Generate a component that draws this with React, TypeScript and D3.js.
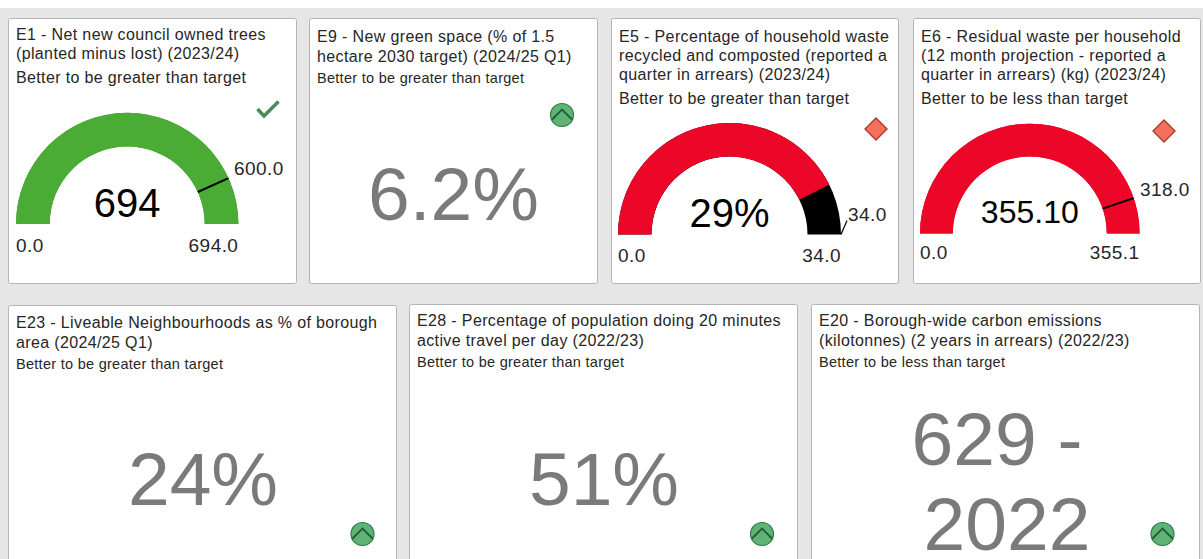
import React from "react";
import * as d3 from "d3";

// ---- data ----
const gaugeTitles = [
  ["E1 - Net new council owned trees", "(planted minus lost) (2023/24)"],
  ["E5 - Percentage of household waste", "recycled and composted (reported a", "quarter in arrears) (2023/24)"],
  ["E6 - Residual waste per household", "(12 month projection - reported a", "quarter in arrears) (kg) (2023/24)"],
];
const gaugeNotes = ["Better to be greater than target", "Better to be greater than target", "Better to be less than target"];
const gaugeValues = [694, 29, 355.1];
const gaugeMax = [694, 34, 355.1];
const gaugeTargets = [600, 34, 318];
const gaugeLabels = ["694", "29%", "355.10"];
const gaugeStatus = ["check", "diamond", "diamond"];

const kpiTitles = [
  ["E9 - New green space (% of 1.5", "hectare 2030 target) (2024/25 Q1)"],
  ["E23 - Liveable Neighbourhoods as % of borough", "area (2024/25 Q1)"],
  ["E28 - Percentage of population doing 20 minutes", "active travel per day (2022/23)"],
  ["E20 - Borough-wide carbon emissions", "(kilotonnes) (2 years in arrears) (2022/23)"],
];
const kpiNotes = ["Better to be greater than target", "Better to be greater than target", "Better to be greater than target", "Better to be less than target"];
const kpiLabels = [["6.2%"], ["24%"], ["51%"], ["629 -", "2022"]];

// ---- layout ----
const W = 1203, H = 559;
const FONT = "'Liberation Sans', Arial, sans-serif";
const GREEN = "#4aab35", RED = "#ec0627", GREY = "#7a7a7a", INK = "#262626";

const gaugeLayout = [
  { card: [8.5, 18.5, 288, 265], cx: 127.2, cy: 224, r0: 77.5, r1: 111.2, titleY: [40, 59], noteY: 82.5, valSize: 40, valY: 217, minY: 252, maxY: 252, tgt: [234, 175], icon: [268, 109], fill: GREEN, rest: GREEN },
  { card: [611.5, 18.5, 287, 265], cx: 729.5, cy: 234.5, r0: 78, r1: 111.5, titleY: [41.5, 61, 80], noteY: 103.5, valSize: 40, valY: 227, minY: 262, maxY: 262, tgt: [848, 221], icon: [876, 129], fill: RED, rest: "#000" },
  { card: [913.5, 18.5, 287, 265], cx: 1029.8, cy: 233.5, r0: 77, r1: 109.8, titleY: [41.5, 61, 80], noteY: 103.5, valSize: 32, valY: 223, minY: 259, maxY: 259, tgt: [1140, 196], icon: [1164, 131], fill: RED, rest: RED },
];
const kpiLayout = [
  { card: [309.5, 18.5, 288, 265], titleX: 317, titleY: [42, 62], noteY: 83, tx: [453.5], valY: [220], icon: [562, 115] },
  { card: [8.5, 305.5, 388, 270], titleX: 16, titleY: [328, 347.5], noteY: 369, tx: [203], valY: [505], icon: [362.5, 534] },
  { card: [409.5, 304.5, 388, 270], titleX: 417, titleY: [325.5, 345.5], noteY: 367, tx: [604], valY: [505], icon: [762, 534] },
  { card: [811.5, 304.5, 388, 270], titleX: 819, titleY: [325.5, 345.5], noteY: 367, tx: [997, 1007], valY: [465, 550], icon: [1162.5, 534] },
];

const titleStyle = { fontSize: 16, letterSpacing: 0.36 };
const noteStyle = { fontSize: 14.5, letterSpacing: 0.28 };
const gaugeNoteStyle = { fontSize: 16, letterSpacing: 0.36 };
const tickStyle = { fontSize: 19, letterSpacing: 0.45 };

const Card = ({ b }: { b: number[] }) => (
  <rect x={b[0]} y={b[1]} width={b[2]} height={b[3]} rx={2} fill="#fff" stroke="#b4b4b4" strokeWidth={1} />
);

const Chevron = ({ x, y }: { x: number; y: number }) => (
  <g transform={`translate(${x},${y})`}>
    <circle r={11.5} fill="#5fb375" stroke="#2f7a4c" strokeWidth={1.2} />
    <path d="M-10,4.5 L0,-5.5 L10,4.5" fill="none" stroke="#235c3b" strokeWidth={1.8} />
  </g>
);
const Diamond = ({ x, y }: { x: number; y: number }) => (
  <path transform={`translate(${x},${y})`} d="M0,-11 L11,0 L0,11 L-11,0 Z" fill="#f46f5e" stroke="#a93a2e" strokeWidth={1.4} />
);
const Check = ({ x, y }: { x: number; y: number }) => (
  <path transform={`translate(${x},${y})`} d="M-10.5,0 L-4,7 L10.5,-7.5" fill="none" stroke="#4a8a5e" strokeWidth={3.6} />
);

function Gauge({ i }: { i: number }) {
  const l = gaugeLayout[i];
  const angle = d3.scaleLinear().domain([0, gaugeMax[i]]).range([-Math.PI / 2, Math.PI / 2]);
  const arc = d3.arc<any>().innerRadius(l.r0).outerRadius(l.r1);
  const a = angle(gaugeValues[i]);
  const t = angle(gaugeTargets[i]);
  const full = gaugeTargets[i] >= gaugeMax[i];
  return (
    <g>
      <Card b={l.card} />
      <text {...titleStyle} fill={INK}>
        {gaugeTitles[i].map((s, k) => <tspan key={k} x={l.card[0] + 7.5} y={l.titleY[k]}>{s}</tspan>)}
      </text>
      <text x={l.card[0] + 7.5} y={l.noteY} {...gaugeNoteStyle} fill={INK}>{gaugeNotes[i]}</text>
      <g transform={`translate(${l.cx},${l.cy})`}>
        <path d={arc({ startAngle: -Math.PI / 2, endAngle: Math.PI / 2 })!} fill={l.rest} />
        <path d={arc({ startAngle: -Math.PI / 2, endAngle: a })!} fill={l.fill} />
        {full ? (
          <line x1={l.r1} y1={0} x2={l.r1 + 6} y2={-14} stroke="#000" strokeWidth={1.2} />
        ) : (
          <line x1={l.r0 * Math.sin(t)} y1={-l.r0 * Math.cos(t)} x2={l.r1 * Math.sin(t)} y2={-l.r1 * Math.cos(t)} stroke="#000" strokeWidth={2} />
        )}
      </g>
      <text x={l.cx} y={l.valY} textAnchor="middle" fontSize={l.valSize} fill="#000">{gaugeLabels[i]}</text>
      <text x={l.cx - l.r1} y={l.minY} {...tickStyle} fill={INK}>{d3.format(".1f")(0)}</text>
      <text x={l.cx + l.r1} y={l.maxY} textAnchor="end" {...tickStyle} fill={INK}>{d3.format(".1f")(gaugeMax[i])}</text>
      <text x={l.tgt[0]} y={l.tgt[1]} {...tickStyle} fill={INK}>{d3.format(".1f")(gaugeTargets[i])}</text>
      {gaugeStatus[i] === "check" ? <Check x={l.icon[0]} y={l.icon[1]} /> : <Diamond x={l.icon[0]} y={l.icon[1]} />}
    </g>
  );
}

function Kpi({ i }: { i: number }) {
  const l = kpiLayout[i];
  return (
    <g>
      <Card b={l.card} />
      <text {...titleStyle} fill={INK}>
        {kpiTitles[i].map((s, k) => <tspan key={k} x={l.titleX} y={l.titleY[k]}>{s}</tspan>)}
      </text>
      <text x={l.titleX} y={l.noteY} {...noteStyle} fill={INK}>{kpiNotes[i]}</text>
      <text textAnchor="middle" fontSize={75} fill={GREY}>
        {kpiLabels[i].map((s, k) => <tspan key={k} x={l.tx[k]} y={l.valY[k]}>{s}</tspan>)}
      </text>
      <Chevron x={l.icon[0]} y={l.icon[1]} />
    </g>
  );
}

export default function App() {
  return (
    <svg width={W} height={H} viewBox={`0 0 ${W} ${H}`} fontFamily={FONT}
      style={{ position: "absolute", left: 0, top: 0, display: "block" }}>
      <rect x={0} y={0} width={W} height={H} fill="#fff" />
      <rect x={0} y={8} width={W} height={H - 8} fill="#e6e6e6" />
      {gaugeLayout.map((_, i) => <Gauge key={i} i={i} />)}
      {kpiLayout.map((_, i) => <Kpi key={i} i={i} />)}
    </svg>
  );
}
